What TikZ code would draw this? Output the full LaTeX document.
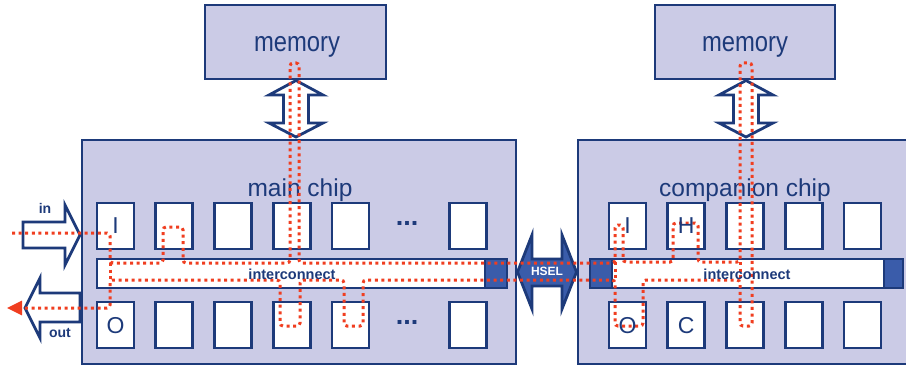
\documentclass[tikz,border=0pt]{standalone}
\usepackage{fontspec}
\setmainfont{Liberation Sans}
\usetikzlibrary{positioning, calc, arrows.meta}

\definecolor{chipfill}{RGB}{203,203,230}
\definecolor{navy}{RGB}{29,58,122}
\definecolor{capblue}{RGB}{58,92,170}
\definecolor{dotred}{RGB}{240,62,32}

\begin{document}
\begin{tikzpicture}[x=1pt, y=-1pt,
    block/.style={draw=navy, fill=chipfill, line width=2.6pt, inner sep=0pt},
    cell/.style={draw=navy, fill=white, line width=2.8pt, minimum width=37pt, minimum height=46pt, inner sep=0pt},
    bus/.style={draw=navy, fill=white, line width=2.8pt, minimum height=29pt, inner sep=0pt},
    buscap/.style={draw=navy, fill=capblue, line width=2.8pt, minimum height=29pt, inner sep=0pt},
    fatarrow/.style={draw=navy, fill=white, line width=2.8pt},
    route/.style={draw=dotred, line width=3pt, dash pattern=on 3pt off 3.6pt, rounded corners=3pt},
    chiptext/.style={text=navy, inner sep=0pt, font=\fontsize{24.5}{28}\selectfont},
    celltext/.style={text=navy, inner sep=0pt, font=\fontsize{23}{26}\selectfont},
    bustext/.style={text=navy, inner sep=0pt, font=\fontsize{14.5}{16}\selectfont\bfseries}]
    \useasboundingbox (0,0) rectangle (906,369);

    % Chips and memories
    \node[block, minimum width=434pt, minimum height=224pt] (main) at (299,252) {};
    \node[block, minimum width=330pt, minimum height=224pt] (comp) at (743,252) {};
    \node[block, minimum width=181pt, minimum height=74pt] (meml) at (295.5,42) {};
    \node[block, minimum width=180pt, minimum height=74pt] (memr) at (745,42) {};

    \node[chiptext, anchor=base] (mainlbl) at (300,196) {main chip};
    \node[chiptext, anchor=base] (complbl) at (745,196) {companion chip};
    \node[chiptext, anchor=base, font=\fontsize{28}{32}\selectfont] (memllbl) at (297,52) {\scalebox{0.85}[1]{memory}};
    \node[chiptext, anchor=base, font=\fontsize{28}{32}\selectfont] (memrlbl) at (745,52) {\scalebox{0.85}[1]{memory}};

    % Memory links
    \coordinate (lmtip) at (296,80.5);
    \coordinate (rmtip) at (746,80.5);
    \draw[fatarrow] (lmtip) -- ++(27,14.5) -- ++(-14.5,0) -- ++(0,28) -- ++(14.5,0) -- ++(-27,14) -- ++(-27,-14) -- ++(14.5,0) -- ++(0,-28) -- ++(-14.5,0) -- cycle;
    \draw[fatarrow] (rmtip) -- ++(27,14.5) -- ++(-14.5,0) -- ++(0,28) -- ++(14.5,0) -- ++(-27,14) -- ++(-27,-14) -- ++(14.5,0) -- ++(0,-28) -- ++(-14.5,0) -- cycle;

    % In and out ports
    \coordinate (intip) at (80,235);
    \coordinate (outtip) at (25,308);
    \draw[fatarrow] (intip) -- ++(-15,-30) -- ++(0,17) -- ++(-42,0) -- ++(0,26) -- ++(42,0) -- ++(0,17) -- cycle;
    \draw[fatarrow] (outtip) -- ++(15,-30) -- ++(0,15) -- ++(40,0) -- ++(0,29) -- ++(-40,0) -- ++(0,16) -- cycle;
    \node[bustext, anchor=base, font=\fontsize{14}{16}\selectfont\bfseries] (inlbl) at (45,213) {in};
    \node[bustext, anchor=base, font=\fontsize{14}{16}\selectfont\bfseries] (outlbl) at (60,337) {out};

    % Cells of the main chip
    \foreach \i in {0,1,2,3,4,6} {
        \node[cell] (mt\i) at ({115.5+58.75*\i},226) {};
        \node[cell] (mb\i) at ({115.5+58.75*\i},325) {};
    }
    \node[bustext, anchor=base, font=\fontsize{27}{30}\selectfont\bfseries] (mtdots) at (407,225) {...};
    \node[bustext, anchor=base, font=\fontsize{27}{30}\selectfont\bfseries] (mbdots) at (407,324) {...};

    % Cells of the companion chip
    \foreach \i in {0,...,4} {
        \node[cell] (ct\i) at ({627.5+58.75*\i},226) {};
        \node[cell] (cb\i) at ({627.5+58.75*\i},325) {};
    }

    % Interconnects
    \node[bus, minimum width=410pt] (mbus) at (302,273.5) {};
    \node[buscap, minimum width=22pt] (mcap) at (496,273.5) {};
    \node[bus, minimum width=313pt] (cbus) at (746.5,273.5) {};
    \node[buscap, minimum width=22pt] (ccapl) at (601,273.5) {};
    \node[buscap, minimum width=19pt] (ccapr) at (893.5,273.5) {};

    % HSEL link
    \coordinate (hseltip) at (517.5,272);
    \draw[fatarrow, fill=capblue] (hseltip) -- ++(14.5,-37) -- ++(0,24) -- ++(30,0) -- ++(0,-24) -- ++(14.5,37) -- ++(-14.5,37) -- ++(0,-23) -- ++(-30,0) -- ++(0,23) -- cycle;

    % Data route
    \draw[route, -{Triangle[length=15pt, width=14pt]}] (12,233) -- (110,233) -- (110,263) -- (163,263) -- (163,227) -- (183,227) -- (183,263)
        -- (290,263) -- (290,63) -- (299,63) -- (299,263) -- (615,263) -- (615,225) -- (623,225) -- (623,262)
        -- (673,262) -- (673,223) -- (698,223) -- (698,262) -- (740,262) -- (740,63) -- (752,63) -- (752,326)
        -- (740,326) -- (740,280) -- (643,280) -- (643,326) -- (615,326) -- (615,280) -- (363,280) -- (363,326)
        -- (344,326) -- (344,280) -- (300,280) -- (300,326) -- (280,326) -- (280,280) -- (110,280) -- (110,308) -- (7,308);
    \draw[route] (110,263) -- (110,280);
    \draw[route] (615,262) -- (615,280);
    \draw[route] (740,262) -- (740,280);

    % Labels
    \node[bustext, anchor=base] (mbuslbl) at (292,279) {interconnect};
    \node[bustext, anchor=base] (cbuslbl) at (747,279) {interconnect};
    \node[bustext, anchor=base, text=white, font=\fontsize{12}{14}\selectfont\bfseries] (hsellbl) at (547,275) {HSEL};
    \node[celltext, anchor=base] (mI) at (mt0 |- 0,233) {I};
    \node[celltext, anchor=base] (mO) at (mb0 |- 0,333) {O};
    \node[celltext, anchor=base] (cI) at (ct0 |- 0,233) {I};
    \node[celltext, anchor=base] (cH) at (ct1 |- 0,233) {H};
    \node[celltext, anchor=base] (cO) at (cb0 |- 0,333) {O};
    \node[celltext, anchor=base] (cC) at (cb1 |- 0,333) {C};
\end{tikzpicture}
\end{document}
